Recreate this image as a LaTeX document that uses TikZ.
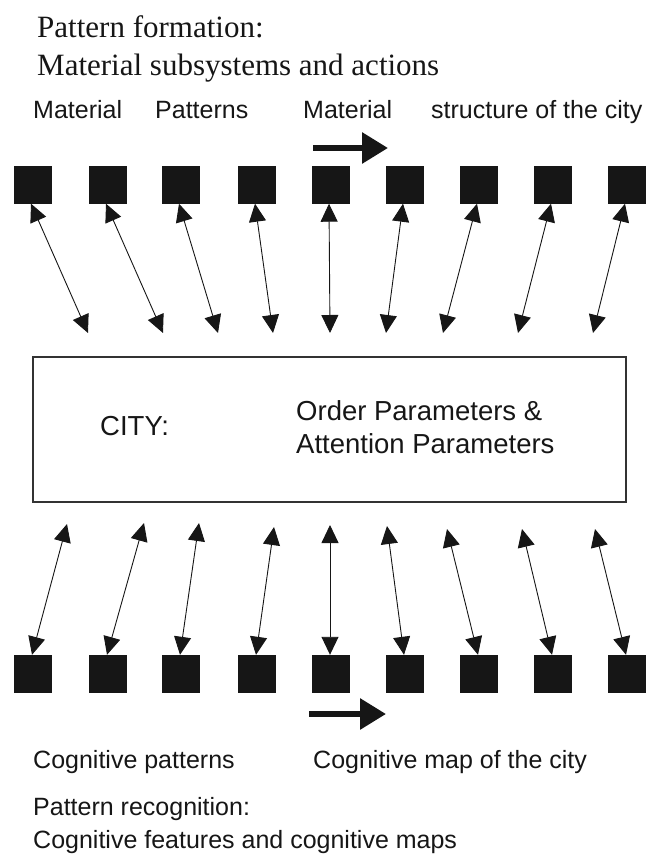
\documentclass[tikz,border=0pt]{standalone}
\usepackage{fontspec}
\setmainfont{Liberation Serif}
\setsansfont{Liberation Sans}
\usepackage{tikz}
\usetikzlibrary{arrows.meta,positioning}

\definecolor{ink}{HTML}{161616}
\definecolor{frame}{HTML}{333333}

\begin{document}
\begin{tikzpicture}[x=1pt,y=-1pt,
    blk/.style={fill=ink,minimum size=38pt,inner sep=0pt},
    link/.style={line width=0.9pt,draw=ink,{Triangle[length=18pt,width=17pt]}-{Triangle[length=18pt,width=17pt]}},
    flow/.style={line width=6pt,draw=ink,-{Triangle[length=26pt,width=30pt]}},
    lbl/.style={font=\sffamily\fontsize{25}{33}\selectfont,anchor=base west,inner sep=0pt,align=left,text=ink},
    boxtxt/.style={font=\sffamily\fontsize{27.5}{33}\selectfont,anchor=base west,inner sep=0pt,align=left,text=ink},
    heading/.style={font=\rmfamily\fontsize{31}{38}\selectfont,anchor=base west,inner sep=0pt,align=left,text=ink}]
    \useasboundingbox (0,0) rectangle (655,859);
    % Pattern formation side (top), two-line nodes sit on their last line
    \node[heading] (form) at (37,75) {Pattern formation:\\Material subsystems and actions};
    \node[lbl] (mat1) at (33,118) {Material};
    \node[lbl] (pat1) at (155,118) {Patterns};
    \node[lbl] (mat2) at (303,118) {Material};
    \node[lbl] (struct) at (431,118) {structure of the city};
    \coordinate (m0) at (313,148);
    \coordinate (m1) at (388,148);
    \draw[flow] (m0) -- (m1);
    % Two rows of subsystems
    \foreach \x [count=\i] in {33,108,181,257,331,405,479,553,627} {
        \node[blk] (t\i) at (\x,184.5) {};
        \node[blk] (b\i) at (\x,674) {};
    }
    % City box with order parameters
    \node[draw=frame,line width=1.2pt,minimum width=593pt,minimum height=145pt,inner sep=0pt] (city) at (329.5,429.5) {};
    \node[boxtxt] (cityname) at (100,435) {CITY:};
    \node[boxtxt] (params) at (296,453) {Order Parameters \&\\Attention Parameters};
    % Arrow ends near the box
    \foreach \i/\x in {1/88,2/163,3/218,4/273,5/330,6/386,7/443,8/518,9/593}
        \coordinate (a\i) at (\x,333);
    \foreach \i/\x/\y in {1/67/524,2/144/523,3/199/523,4/274/527,5/330/525,6/387/526,7/447/529,8/522/529,9/595/529}
        \coordinate (c\i) at (\x,\y);
    \foreach \i in {1,...,9} {
        \draw[link] ([xshift=-2pt]t\i.south) -- (a\i);
        \draw[link] (c\i) -- ([xshift=-1pt]b\i.north);
    }
    % Pattern recognition side (bottom)
    \coordinate (n0) at (309,714);
    \coordinate (n1) at (386,714);
    \draw[flow] (n0) -- (n1);
    \node[lbl] (cogpat) at (33,768) {Cognitive patterns};
    \node[lbl] (cogmap) at (313,768) {Cognitive map of the city};
    \node[lbl] (recog) at (33,848) {Pattern recognition:\\Cognitive features and cognitive maps};
\end{tikzpicture}
\end{document}
